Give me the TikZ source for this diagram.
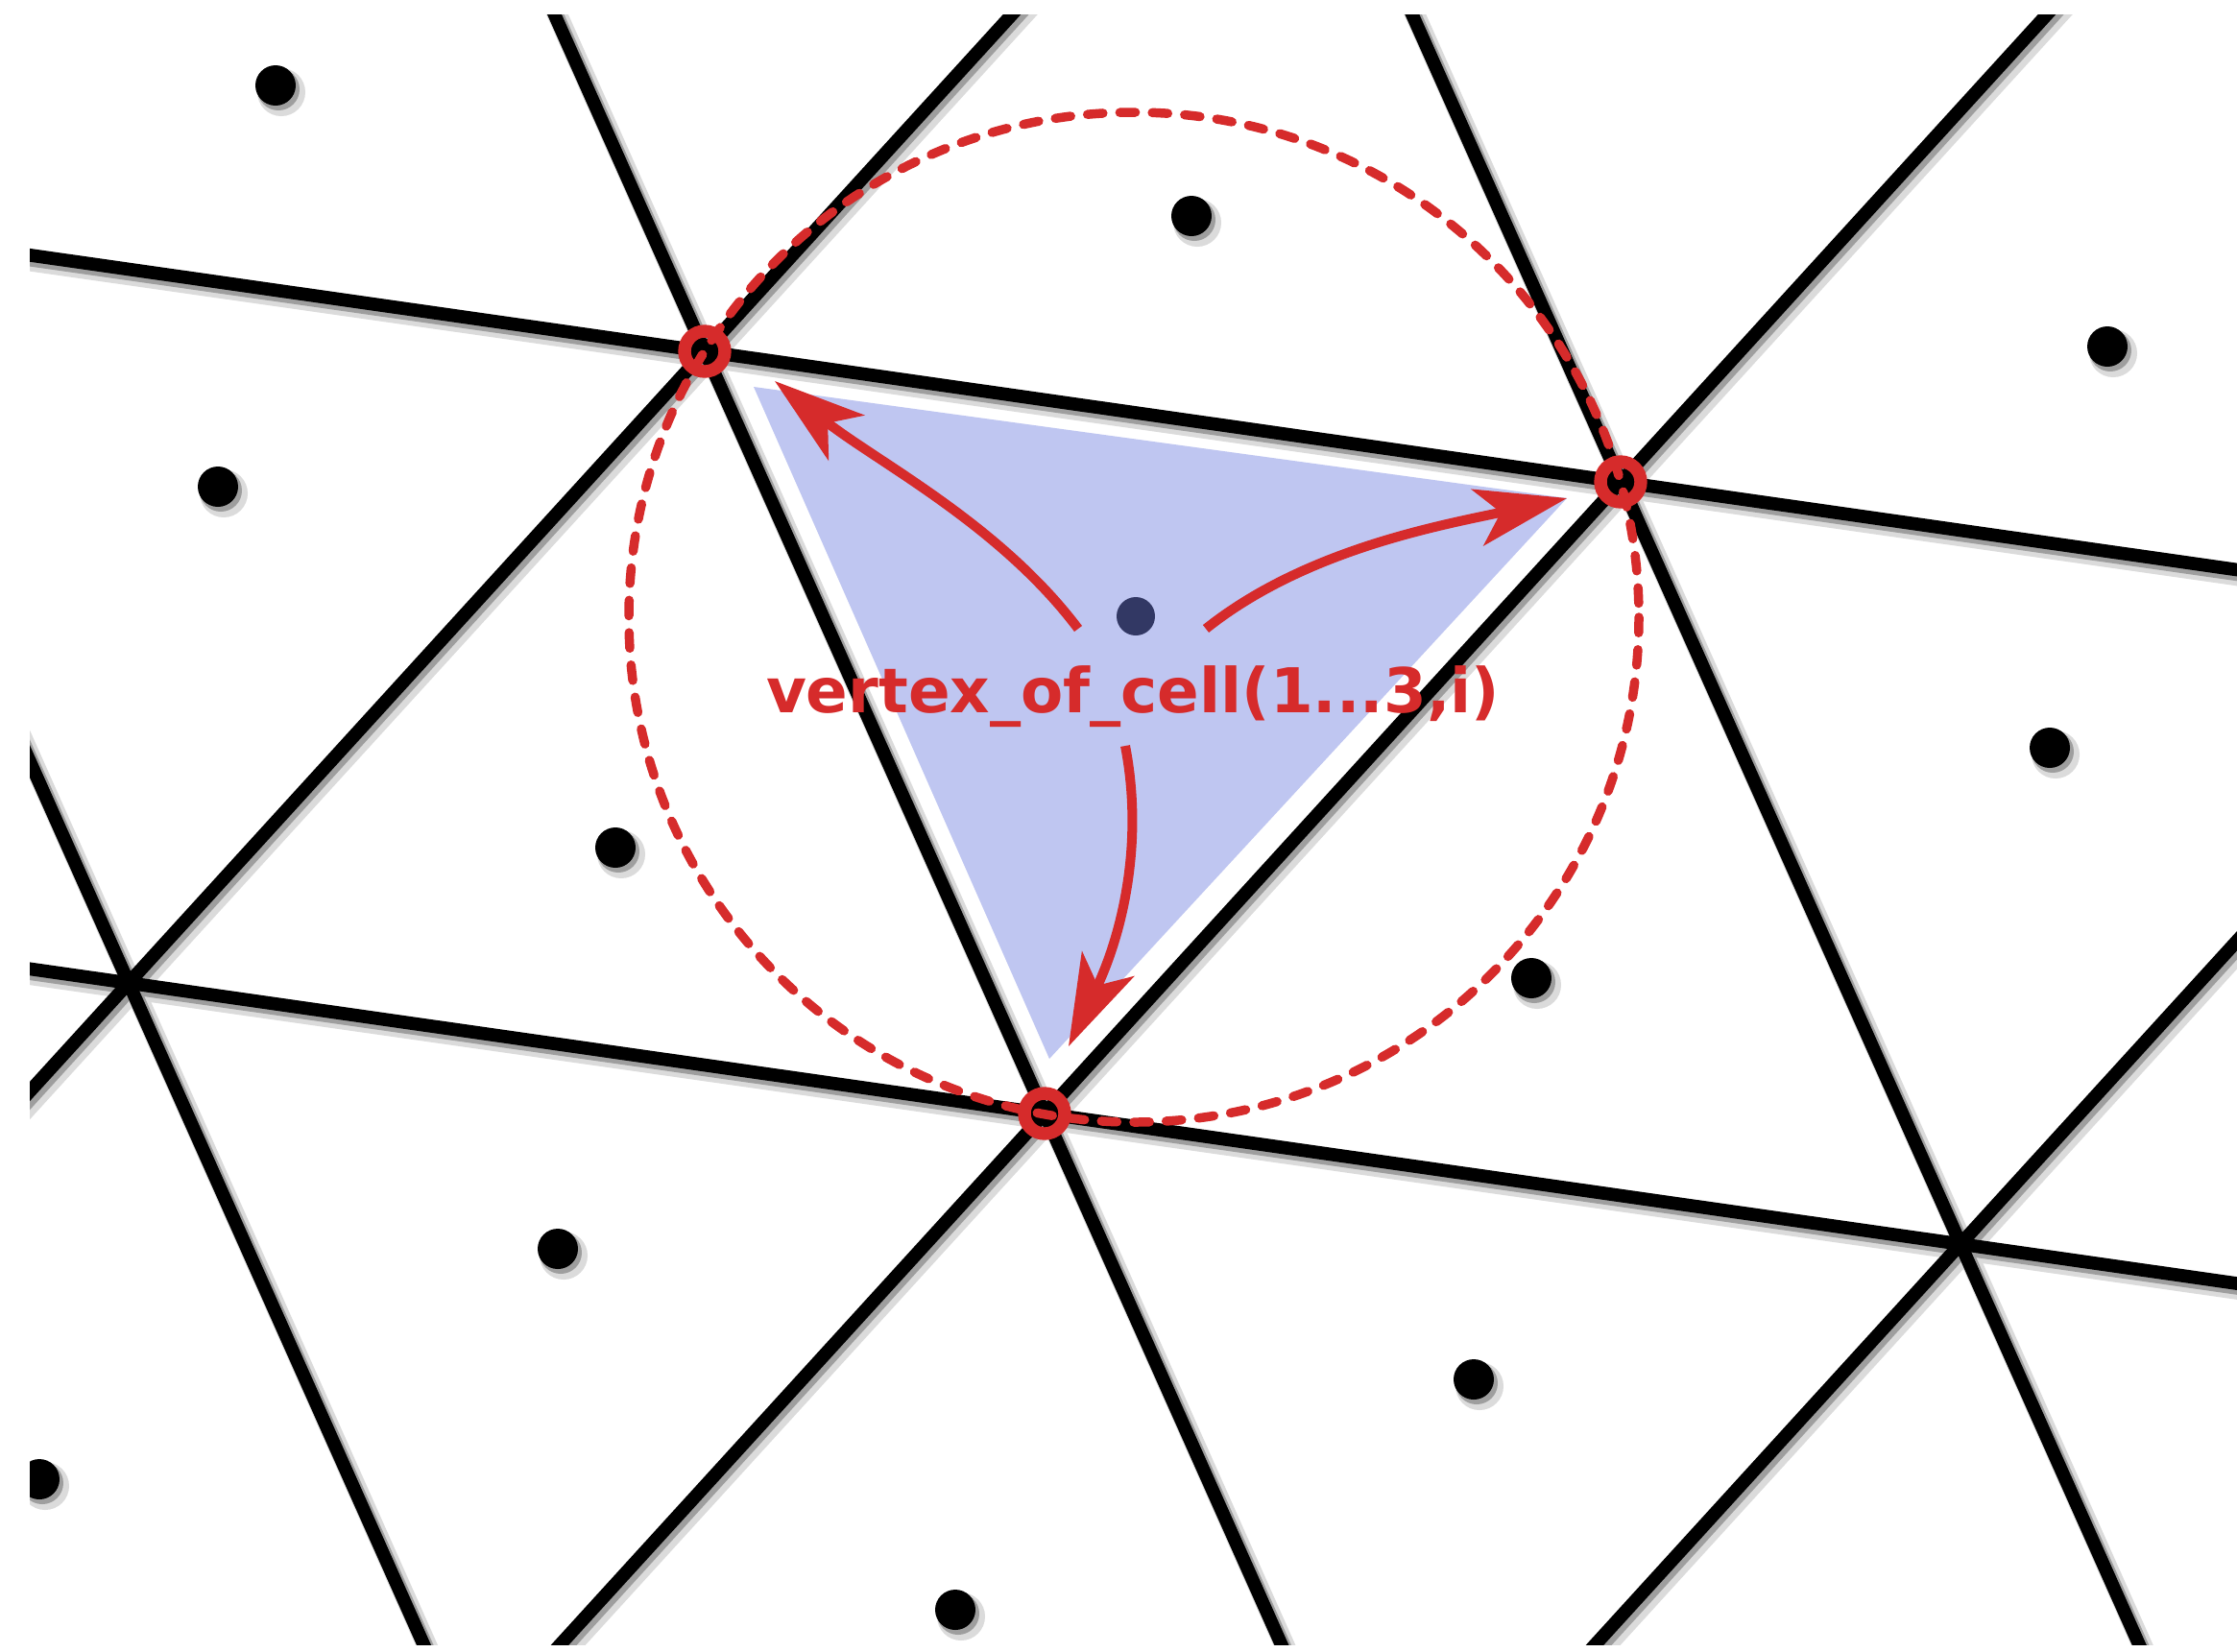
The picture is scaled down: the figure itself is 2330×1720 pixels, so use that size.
\documentclass[tikz,border=0pt]{standalone}
\usepackage{fontspec}
\newfontfamily\labelfont{DejaVu Sans}
\usetikzlibrary{arrows.meta}
\definecolor{CellRed}{RGB}{214,43,43}
\definecolor{CellBlue}{RGB}{191,198,241}
\definecolor{CenterNavy}{RGB}{50,56,100}
\tikzset{
  gridline/.style={line width=3.9pt,black},
  gridhalo/.style={line width=6pt,black!14},
  gridshade/.style={line width=4.6pt,black!38},
  dothalo/.style={fill=black!14},
  dotshade/.style={fill=black!38},
  celldot/.style={fill=black},
  circumcircle/.style={draw=CellRed,line width=2.7pt,line cap=round,
    dash pattern=on 4.6pt off 5pt},
  vertexring/.style={draw=CellRed,line width=3.8pt},
  pointer/.style={draw=CellRed,line width=2.85pt,
    -{Stealth[length=27pt,width=17pt,inset=7pt]}},
  celllabel/.style={text=CellRed,anchor=base,inner sep=0pt,
    font=\labelfont\bfseries\fontsize{18.3pt}{22pt}\selectfont}
}
% the three families of lattice lines
\newcommand\drawgrid[1]{%
  \foreach \j in {0,1}
    \draw[#1] ({734-2*954+\j*354},{366-2*136+\j*794}) -- ({734+3*954+\j*354},{366+3*136+\j*794});
  \foreach \i in {-1,0,1}
    \draw[#1] ({734+\i*954-2*354},{366+\i*136-2*794}) -- ({734+\i*954+3*354},{366+\i*136+3*794});
  \foreach \k in {0,1,2}
    \draw[#1] ({734+(\k+3)*954-3*354},{366+(\k+3)*136-3*794}) -- ({734+(\k-3)*954+3*354},{366+(\k-3)*136+3*794});
}
\newcommand\celldots{287/89,1241/225,2195/361,227/507,2135/779,641/883,
  1595/1019,581/1301,1535/1437,41/1541,995/1677}

\begin{document}
\begin{tikzpicture}[x=0.01cm,y=-0.01cm]
  \useasboundingbox[fill=white] (0,0) rectangle (2330,1720);
  \begin{scope}
    \clip (31,15) rectangle (2330,1713);

    % soft shadows, then the lines
    \begin{scope}[shift={(6,7)}]
      \drawgrid{gridhalo}
    \end{scope}
    \begin{scope}[shift={(3,4)}]
      \drawgrid{gridshade}
    \end{scope}
    \drawgrid{gridline}

    % the cell
    \coordinate (v1) at (734,366);
    \coordinate (v2) at (1688,502);
    \coordinate (v3) at (1088,1160);
    \coordinate (ctr) at (1183,642);
    \fill[CellBlue] (785,403) -- (1632,519) -- (1093,1103) -- cycle;

    % cell centres
    \foreach \cx/\cy in \celldots {
      \fill[dothalo] (\cx+6,\cy+7) circle[radius=25];
      \fill[dotshade] (\cx+3,\cy+4) circle[radius=22];
      \fill[celldot] (\cx,\cy) circle[radius=21];
    }

    \draw[circumcircle] (1181,643) circle[radius=526];
    \foreach \v in {v1,v2,v3}
      \draw[vertexring] (\v) circle[radius=21];

    % pointers to the three vertices
    \coordinate (tail1) at (1123,655);
    \coordinate (head1) at (807,397);
    \coordinate (tail2) at (1256,655);
    \coordinate (head2) at (1632,519);
    \coordinate (tail3) at (1172,777);
    \coordinate (head3) at (1113,1090);
    \draw[pointer] (tail1) .. controls (1041,546) and (913,481) .. (head1);
    \draw[pointer] (tail2) .. controls (1360,572) and (1502,547) .. (head2);
    \draw[pointer] (tail3) .. controls (1192,880) and (1168,975) .. (head3);

    \node[celllabel] (vlabel) at (1180,742) {vertex\_of\_cell(1...3,i)};
    \fill[CenterNavy] (ctr) circle[radius=20];
  \end{scope}
\end{tikzpicture}
\end{document}
